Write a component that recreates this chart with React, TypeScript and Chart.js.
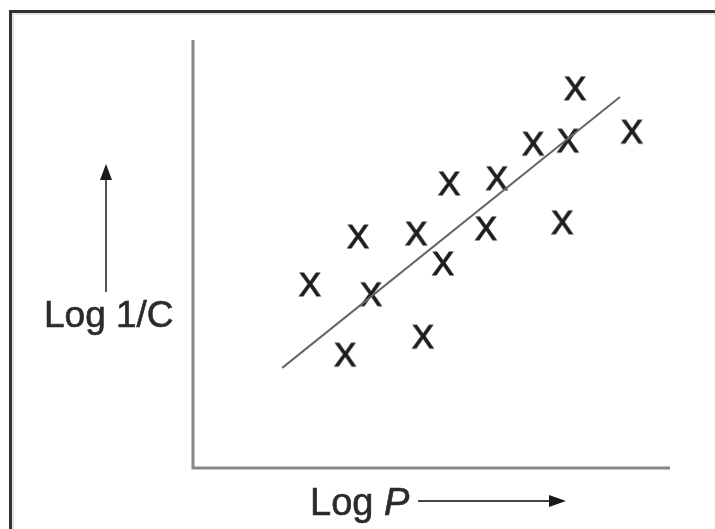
import React, { useEffect, useRef } from "react";
import { Chart, registerables } from "chart.js";

Chart.register(...registerables);

// Scatter observations (Log P, Log 1/C) in arbitrary units
const logP: number[] = [2.45, 3.19, 3.73, 3.46, 4.68, 4.82, 5.24, 5.37, 6.14, 6.37, 7.13, 7.86, 8.01, 7.74, 9.2];
const logInvC: number[] = [4.3, 2.66, 4.07, 5.42, 5.49, 3.08, 4.79, 6.66, 5.61, 6.78, 7.59, 7.66, 8.88, 5.75, 7.87];
// Fitted trend line end points
const fitX: number[] = [1.87, 8.95];
const fitY: number[] = [2.34, 8.67];
const xLabel = "Log ";
const xLabelItalic = "P";
const yLabel = "Log 1/C";

function makeXMarker(): HTMLCanvasElement {
  const c = document.createElement("canvas");
  c.width = 30;
  c.height = 30;
  const ctx = c.getContext("2d")!;
  ctx.fillStyle = "#1e1e1e";
  ctx.strokeStyle = "#1e1e1e";
  ctx.lineWidth = 1.1;
  ctx.font = "33px 'Liberation Sans', Arial, sans-serif";
  ctx.textAlign = "center";
  ctx.textBaseline = "alphabetic";
  ctx.fillText("X", 15, 15 + 11.8);
  ctx.strokeText("X", 15, 15 + 11.8);
  return c;
}

const decorPlugin = {
  id: "decor",
  beforeDraw(chart: any) {
    const ctx = chart.ctx as CanvasRenderingContext2D;
    const W = chart.width;
    const H = chart.height;
    ctx.save();
    ctx.fillStyle = "#fff";
    ctx.fillRect(0, 0, W, H);
    // frame (top + left visible)
    ctx.strokeStyle = "#333";
    ctx.lineWidth = 3;
    ctx.beginPath();
    ctx.moveTo(W, 11.5);
    ctx.lineTo(10.5, 11.5);
    ctx.lineTo(10.5, H);
    ctx.stroke();
    ctx.strokeStyle = "#e4e4e4";
    ctx.lineWidth = 2;
    ctx.beginPath();
    ctx.moveTo(W, 14);
    ctx.lineTo(13, 14);
    ctx.lineTo(13, H);
    ctx.stroke();
    ctx.restore();
  },
  afterDraw(chart: any) {
    const ctx = chart.ctx as CanvasRenderingContext2D;
    const a = chart.chartArea;
    ctx.save();
    // axes
    ctx.strokeStyle = "#888";
    ctx.lineWidth = 3;
    ctx.beginPath();
    ctx.moveTo(a.left, a.top);
    ctx.lineTo(a.left, a.bottom);
    ctx.lineTo(a.right, a.bottom);
    ctx.stroke();

    ctx.fillStyle = "#2b2b2b";
    ctx.strokeStyle = "#2b2b2b";
    ctx.lineWidth = 0.6;
    ctx.textBaseline = "alphabetic";
    // y label
    ctx.font = "37px 'Liberation Sans', Arial, sans-serif";
    ctx.textAlign = "left";
    ctx.fillText(yLabel, 44, 327);
    ctx.strokeText(yLabel, 44, 327);
    // x label
    ctx.font = "38px 'Liberation Sans', Arial, sans-serif";
    ctx.fillText(xLabel, 310, 515);
    ctx.strokeText(xLabel, 310, 515);
    const w = ctx.measureText(xLabel).width;
    ctx.font = "italic 38px 'Liberation Sans', Arial, sans-serif";
    ctx.fillText(xLabelItalic, 310 + w, 515);
    ctx.strokeText(xLabelItalic, 310 + w, 515);

    // y arrow
    ctx.strokeStyle = "#555";
    ctx.lineWidth = 2;
    ctx.beginPath();
    ctx.moveTo(106, 292);
    ctx.lineTo(106, 176);
    ctx.stroke();
    ctx.fillStyle = "#1a1a1a";
    ctx.beginPath();
    ctx.moveTo(106, 164);
    ctx.lineTo(112, 180);
    ctx.lineTo(100, 180);
    ctx.closePath();
    ctx.fill();

    // x arrow
    ctx.strokeStyle = "#444";
    ctx.lineWidth = 2;
    ctx.beginPath();
    ctx.moveTo(418, 501);
    ctx.lineTo(552, 501);
    ctx.stroke();
    ctx.fillStyle = "#1a1a1a";
    ctx.beginPath();
    ctx.moveTo(566, 501);
    ctx.lineTo(549, 495);
    ctx.lineTo(549, 507);
    ctx.closePath();
    ctx.fill();
    ctx.restore();
  },
};

export default function App() {
  const ref = useRef<HTMLCanvasElement | null>(null);
  useEffect(() => {
    document.body.style.margin = "0";
    const marker = makeXMarker();
    const chart = new Chart(ref.current!, {
      type: "scatter",
      data: {
        datasets: [
          {
            type: "line",
            data: fitX.map((x, i) => ({ x, y: fitY[i] })),
            borderColor: "#666",
            borderWidth: 2,
            pointRadius: 0,
            fill: false,
            clip: false as any,
          },
          {
            data: logP.map((x, i) => ({ x, y: logInvC[i] })),
            pointStyle: marker as any,
            pointRadius: 12,
            clip: false as any,
          },
        ],
      },
      options: {
        responsive: false,
        animation: false,
        layout: { padding: { left: 193, top: 40, right: 45, bottom: 61 } },
        plugins: { legend: { display: false }, tooltip: { enabled: false } },
        scales: {
          x: { type: "linear", min: 0, max: 10, display: false },
          y: { type: "linear", min: 0, max: 10, display: false },
        },
      },
      plugins: [decorPlugin],
    });
    return () => chart.destroy();
  }, []);
  return <canvas ref={ref} width={715} height={529} style={{ display: "block" }} />;
}
